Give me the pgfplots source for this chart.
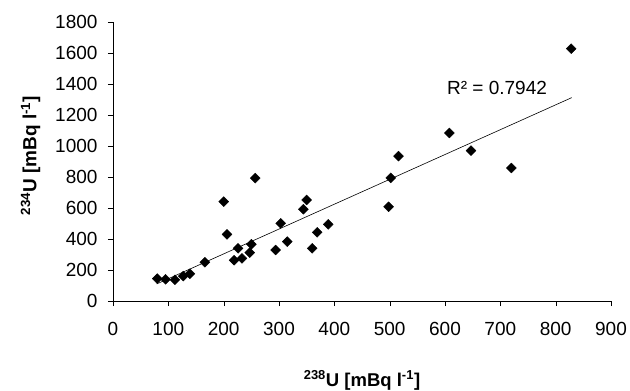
\documentclass[border=0pt]{standalone}
\usepackage{pgfplots}
\pgfplotsset{compat=1.18}
\usepackage{fontspec}
\setmainfont{Liberation Sans}
\begin{document}
\fontsize{19}{22}\selectfont
\begin{tikzpicture}
\begin{axis}[
  scale only axis,
  width=498pt, height=279pt,
  xmin=0, xmax=900, ymin=0, ymax=1800,
  xtick={0,100,...,900}, ytick={0,200,...,1800},
  axis x line*=bottom, axis y line*=left,
  axis line style={-, black},
  tick align=outside, major tick length=5pt,
  tick style={black},
  /pgf/number format/assume math mode=true,
  /pgf/number format/1000 sep={},
  ticklabel style={font=\fontsize{19}{22}\selectfont},
  xticklabel style={yshift=-10pt},
  yticklabel style={xshift=-4pt},
  xlabel={\textbf{\textsuperscript{238}U [mBq l\textsuperscript{-1}]}},
  ylabel={\textbf{\textsuperscript{234}U [mBq l\textsuperscript{-1}]}},
  xlabel style={font=\fontsize{18.5}{21}\selectfont, yshift=-22pt},
  ylabel style={font=\fontsize{19}{22}\selectfont, yshift=2pt, xshift=6pt},
  clip=false,
]
\addplot[only marks, mark=square*, mark size=3.5pt, mark options={rotate=45, fill=black, draw=black}] coordinates {
(80,144) (95,140) (112,137) (127,161) (139,176) (166,250)
(200,641) (206,430) (219,263) (226,340) (233,275) (247,312)
(250,366) (257,793) (294,329) (303,501) (315,383) (344,592)
(350,652) (360,340) (369,443) (389,495) (498,608) (502,794)
(516,935) (608,1084) (647,970) (720,858) (828,1628)
};
\addplot[black, line width=0.6pt] coordinates {(79,110) (829,1312)};
\node[font=\fontsize{19}{22}\selectfont] at (axis cs:694,1374) {R² = 0.7942};
\end{axis}
\pgfresetboundingbox
\path[use as bounding box] (-113pt,-90pt) rectangle (517pt,301pt);
\end{tikzpicture}
\end{document}
